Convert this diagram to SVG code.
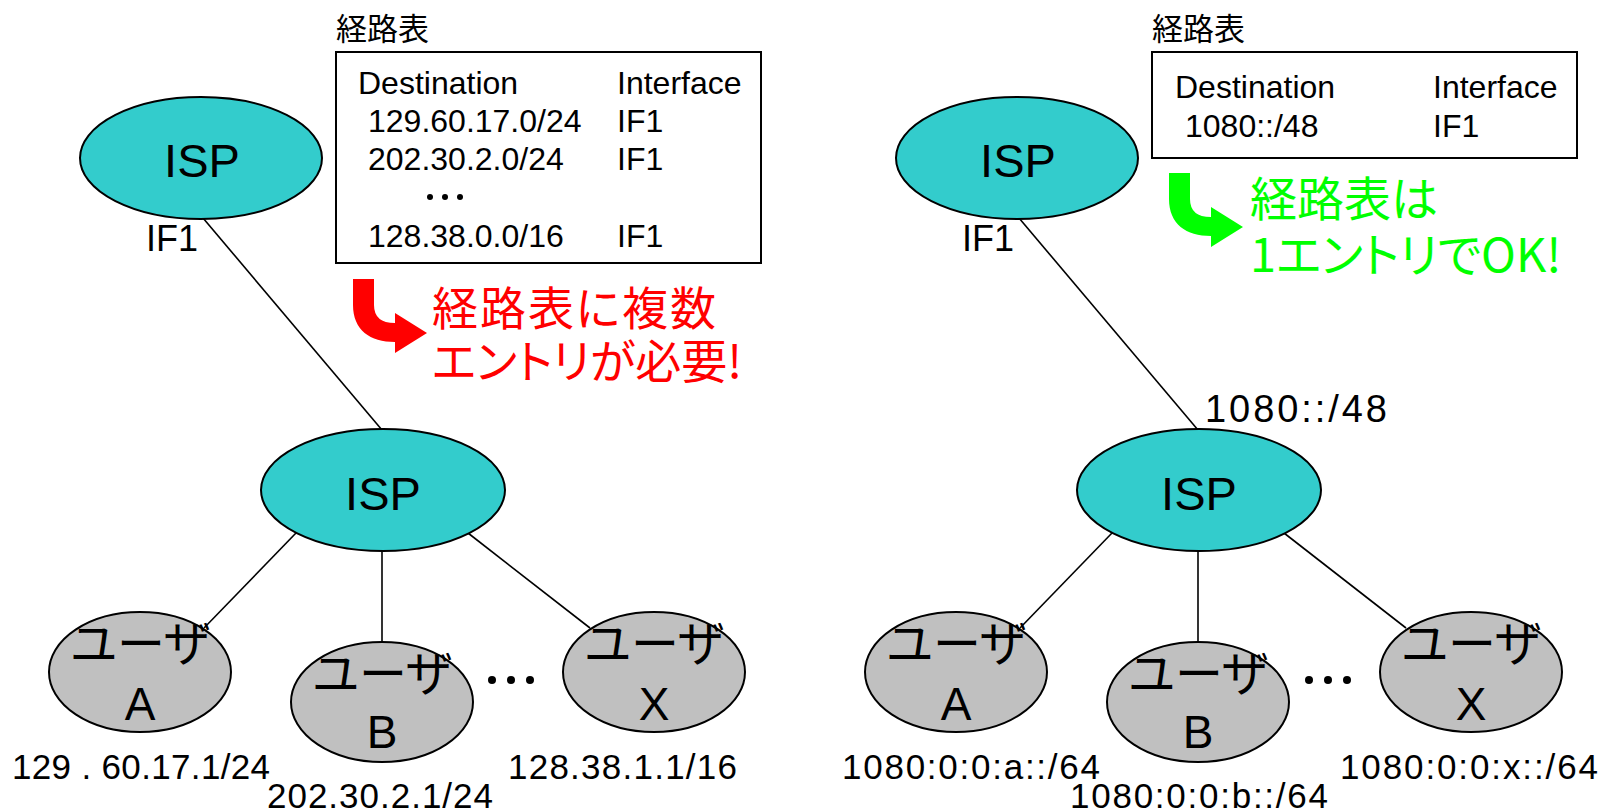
<svg xmlns="http://www.w3.org/2000/svg" width="1603" height="812" viewBox="0 0 1603 812">
<style>
.lat{font-family:'Liberation Sans',Arial,sans-serif;fill:#000}
.jp{font-family:'Noto Sans CJK JP','Noto Sans CJK SC',sans-serif;font-feature-settings:"palt";}
.isp{fill:#33CCCC;stroke:#000;stroke-width:2}
.usr{fill:#C0C0C0;stroke:#000;stroke-width:2}
.tbl{fill:#fff;stroke:#000;stroke-width:2}
.con line{stroke:#000;stroke-width:1.6}
.isptxt{font-size:47px;text-anchor:middle}
.ut{font-size:48px;text-anchor:middle;fill:#000}
.ul{font-size:46px;text-anchor:middle}
.tt{font-size:32px}
.lab{font-size:35px}
.if{font-size:36px}
</style>
<rect width="1603" height="812" fill="#fff"/>

<g id="connectors" class="con">
  <line x1="203" y1="218" x2="382" y2="430"/>
  <line x1="296" y1="533" x2="204" y2="628"/>
  <line x1="382" y1="551" x2="382" y2="642"/>
  <line x1="468" y1="533" x2="590" y2="628"/>
  <line x1="1019" y1="218" x2="1198" y2="430"/>
  <line x1="1112" y1="533" x2="1020" y2="628"/>
  <line x1="1198" y1="551" x2="1198" y2="642"/>
  <line x1="1284" y1="533" x2="1406" y2="628"/>
</g>

<!-- Left side -->
<g id="isp-top-left">
  <ellipse class="isp" cx="201" cy="158" rx="121" ry="61"/>
  <text class="lat isptxt" x="202" y="177">ISP</text>
  <text class="lat if" x="146" y="251">IF1</text>
</g>
<g id="table-left">
  <text class="jp" x="336" y="40" font-size="31" fill="#000">経路表</text>
  <rect class="tbl" x="336" y="52" width="425" height="211"/>
  <text class="lat tt" x="358" y="94">Destination</text>
  <text class="lat tt" x="617" y="94">Interface</text>
  <text class="lat tt" x="368" y="132">129.60.17.0/24</text>
  <text class="lat tt" x="617" y="132">IF1</text>
  <text class="lat tt" x="368" y="170">202.30.2.0/24</text>
  <text class="lat tt" x="617" y="170">IF1</text>
  <circle cx="430" cy="197" r="3"/><circle cx="445" cy="197" r="3"/><circle cx="460" cy="197" r="3"/>
  <text class="lat tt" x="368" y="247">128.38.0.0/16</text>
  <text class="lat tt" x="617" y="247">IF1</text>
</g>
<g id="note-left">
  <path d="M353,279 L374,279 L374,305 Q374,323 395,323 L395,313 L427,333 L395,353 L395,342 C370,342 353,330 353,305 Z" fill="#FF0000"/>
  <text class="jp" font-size="46" fill="#FF0000"><tspan x="432" y="325" textLength="284">経路表に複数</tspan><tspan x="432" y="378">エントリが必要!</tspan></text>
</g>
<g id="isp-mid-left">
  <ellipse class="isp" cx="383" cy="490" rx="122" ry="61"/>
  <text class="lat isptxt" x="383" y="510">ISP</text>
</g>
<g id="user-a-left">
  <ellipse class="usr" cx="140" cy="672" rx="91" ry="60"/>
  <text class="jp ut" x="140" y="661">ユーザ</text>
  <text class="lat ul" x="140" y="720">A</text>
  <text class="lat lab" x="12" y="779" textLength="258">129 . 60.17.1/24</text>
</g>
<g id="user-b-left">
  <ellipse class="usr" cx="382" cy="702" rx="91" ry="60"/>
  <text class="jp ut" x="382" y="691">ユーザ</text>
  <text class="lat ul" x="382" y="748">B</text>
  <text class="lat lab" x="267" y="808" textLength="226">202.30.2.1/24</text>
</g>
<g id="dots-left">
  <circle cx="492" cy="680" r="4"/><circle cx="511" cy="680" r="4"/><circle cx="530" cy="680" r="4"/>
</g>
<g id="user-x-left">
  <ellipse class="usr" cx="654" cy="672" rx="91" ry="60"/>
  <text class="jp ut" x="654" y="661">ユーザ</text>
  <text class="lat ul" x="654" y="720">X</text>
  <text class="lat lab" x="508" y="779" textLength="229">128.38.1.1/16</text>
</g>

<!-- Right side -->
<g id="isp-top-right">
  <ellipse class="isp" cx="1017" cy="158" rx="121" ry="61"/>
  <text class="lat isptxt" x="1018" y="177">ISP</text>
  <text class="lat if" x="962" y="251">IF1</text>
</g>
<g id="table-right">
  <text class="jp" x="1152" y="40" font-size="31" fill="#000">経路表</text>
  <rect class="tbl" x="1152" y="52" width="425" height="106"/>
  <text class="lat tt" x="1175" y="98">Destination</text>
  <text class="lat tt" x="1433" y="98">Interface</text>
  <text class="lat tt" x="1185" y="137">1080::/48</text>
  <text class="lat tt" x="1433" y="137">IF1</text>
</g>
<g id="note-right">
  <path d="M1169,173 L1190,173 L1190,199 Q1190,217 1211,217 L1211,207 L1243,227 L1211,247 L1211,236 C1186,236 1169,224 1169,199 Z" fill="#00FF00"/>
  <text class="jp" font-size="47" fill="#00FF00"><tspan x="1250" y="216">経路表は</tspan><tspan x="1250" y="272">1エントリでOK!</tspan></text>
</g>
<g id="isp-mid-right">
  <ellipse class="isp" cx="1199" cy="490" rx="122" ry="61"/>
  <text class="lat isptxt" x="1199" y="510">ISP</text>
  <text class="lat" x="1205" y="422" font-size="38" textLength="182">1080::/48</text>
</g>
<g id="user-a-right">
  <ellipse class="usr" cx="956" cy="672" rx="91" ry="60"/>
  <text class="jp ut" x="956" y="661">ユーザ</text>
  <text class="lat ul" x="956" y="720">A</text>
  <text class="lat lab" x="842" y="779" textLength="258">1080:0:0:a::/64</text>
</g>
<g id="user-b-right">
  <ellipse class="usr" cx="1198" cy="702" rx="91" ry="60"/>
  <text class="jp ut" x="1198" y="691">ユーザ</text>
  <text class="lat ul" x="1198" y="748">B</text>
  <text class="lat lab" x="1070" y="808" textLength="258">1080:0:0:b::/64</text>
</g>
<g id="dots-right">
  <circle cx="1309" cy="680" r="4"/><circle cx="1328" cy="680" r="4"/><circle cx="1347" cy="680" r="4"/>
</g>
<g id="user-x-right">
  <ellipse class="usr" cx="1471" cy="672" rx="91" ry="60"/>
  <text class="jp ut" x="1471" y="661">ユーザ</text>
  <text class="lat ul" x="1471" y="720">X</text>
  <text class="lat lab" x="1340" y="779" textLength="258">1080:0:0:x::/64</text>
</g>
</svg>
